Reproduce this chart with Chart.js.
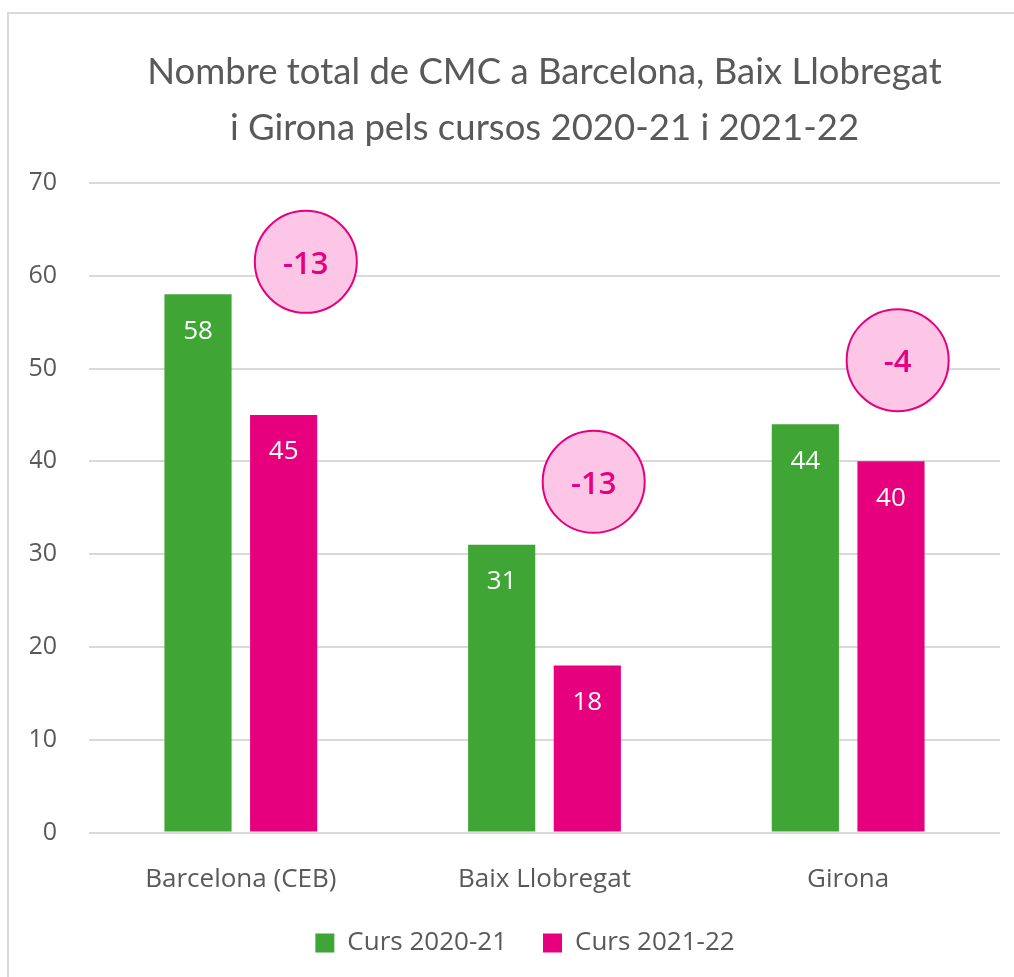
<!DOCTYPE html>
<html>
<head>
<meta charset="utf-8">
<script src="https://cdn.jsdelivr.net/npm/chart.js@4.4.1/dist/chart.umd.min.js"></script>
<style>
  html, body { margin: 0; padding: 0; background: #fff; }
  #wrap { position: relative; width: 1014px; height: 977px; overflow: hidden; }
  #frame { position: absolute; left: 7px; top: 12px; width: 1030px; height: 1000px; border: 2px solid #d9d9d9; box-sizing: border-box; pointer-events: none; }
  canvas { position: absolute; left: 0; top: 0; }
</style>
</head>
<body>
<div id="wrap">
  <canvas id="c" width="1014" height="977"></canvas>
  <div id="frame"></div>
</div>
<script>
const categories = ['Barcelona (CEB)', 'Baix Llobregat', 'Girona'];
const seriesNames = ['Curs 2020-21', 'Curs 2021-22'];
const values2021 = [58, 31, 44];
const values2122 = [45, 18, 40];
const diffLabels = ['-13', '-13', '-4'];
const diffX = [0.214, 1.162, 2.163];
const diffY = [61.5, 37.8, 50.9];
const titleLines = ['Nombre total de CMC a Barcelona, Baix Llobregat', 'i Girona pels cursos 2020-21 i 2021-22'];
const yTicks = { min: 0, max: 70, step: 10 };

const TFONT = "'Lato', sans-serif";
const FONT = "'Open Sans', sans-serif";
const GREEN = '#3fa535';
const PINK = '#e6007e';
const TXT = '#595959';

const labelPlugin = {
  id: 'labels',
  afterLayout(chart) {
    if (chart.legend) chart.legend.left += 20;
  },
  afterDatasetsDraw(chart) {
    const ctx = chart.ctx;
    const xs = chart.scales.x2, ys = chart.scales.y;
    ctx.save();
    diffX.forEach((x, i) => {
      const px = xs.getPixelForValue(x);
      const py = ys.getPixelForValue(diffY[i]);
      ctx.beginPath();
      ctx.arc(px, py, 51, 0, Math.PI * 2);
      ctx.fillStyle = '#fdc6e6';
      ctx.fill();
      ctx.lineWidth = 2;
      ctx.strokeStyle = PINK;
      ctx.stroke();
      ctx.fillStyle = PINK;
      ctx.font = "600 31px " + FONT;
      ctx.textAlign = 'center';
      ctx.textBaseline = 'middle';
      ctx.fillText(diffLabels[i], px, py + 3);
    });
    ctx.textAlign = 'center';
    ctx.textBaseline = 'middle';
    ctx.fillStyle = '#ffffff';
    ctx.font = "26px " + FONT;
    chart.data.datasets.forEach((ds, di) => {
      const meta = chart.getDatasetMeta(di);
      meta.data.forEach((el, i) => ctx.fillText(String(ds.data[i]), el.x, el.y + 37));
    });
    ctx.restore();
  }
};

new Chart(document.getElementById('c'), {
  type: 'bar',
  data: {
    labels: categories,
    datasets: [
      { label: seriesNames[0], data: values2021, backgroundColor: GREEN },
      { label: seriesNames[1], data: values2122, backgroundColor: PINK }
    ]
  },
  options: {
    responsive: false,
    animation: false,
    devicePixelRatio: 1,
    categoryPercentage: 0.564,
    barPercentage: 0.784,
    layout: { padding: { top: 14, left: 30, right: 14, bottom: 11 } },
    plugins: {
      title: {
        display: true,
        fullSize: false,
        text: titleLines,
        color: TXT,
        font: { family: TFONT, size: 36.5, weight: 'normal', lineHeight: 56 / 36.5 },
        padding: { top: 30, bottom: 27 }
      },
      legend: {
        position: 'bottom',
        labels: {
          color: TXT,
          font: { family: FONT, size: 26 },
          boxWidth: 19, boxHeight: 19, padding: 36
        }
      },
      tooltip: { enabled: false }
    },
    scales: {
      x: {
        grid: { display: false, drawTicks: false },
        border: { display: false },
        ticks: { color: TXT, font: { family: FONT, size: 26 }, padding: 31 },
        afterFit(s) { s.height = 61.5; }
      },
      x2: { type: 'linear', display: false, offset: false, min: -0.5, max: 2.5 },
      y: {
        min: yTicks.min, max: yTicks.max,
        ticks: { stepSize: yTicks.step, color: TXT, font: { family: FONT, size: 25 }, padding: 32 },
        grid: { color: '#d9d9d9', lineWidth: 2, drawTicks: false },
        border: { display: false },
        afterFit(s) { s.width = 59; }
      }
    }
  },
  plugins: [labelPlugin]
});
</script>
</body>
</html>
